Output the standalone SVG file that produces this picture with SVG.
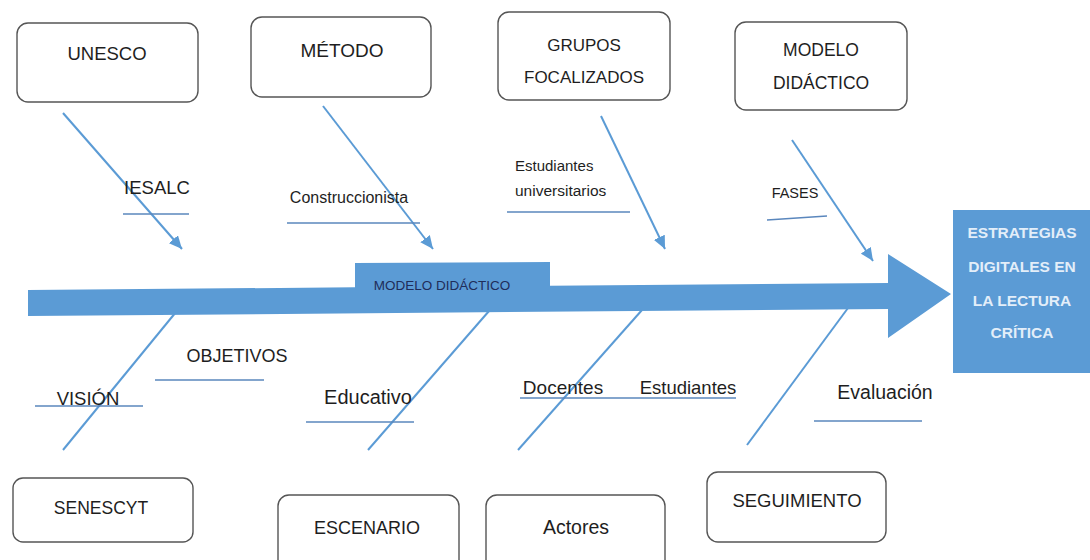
<svg xmlns="http://www.w3.org/2000/svg" width="1090" height="560" viewBox="0 0 1090 560">
<defs>
<style>
.box{fill:#fff;stroke:#555;stroke-width:1.4}
.t{font-family:"Liberation Sans",Arial,sans-serif;fill:#1e1e1e;text-anchor:middle}
.l{font-family:"Liberation Sans",Arial,sans-serif;fill:#1e1e1e}
.br{stroke:#5b9bd5;stroke-width:2;fill:none}
.ul{stroke:#5a87bd;stroke-width:1.3;fill:none}
.blue{fill:#5b9bd5}
</style>
<marker id="ah" markerUnits="userSpaceOnUse" markerWidth="14" markerHeight="12" refX="13" refY="6" orient="auto">
<path d="M0,0 L13,6 L0,12 Z" fill="#5b9bd5"/>
</marker>
</defs>
<rect width="1090" height="560" fill="#fff"/>
<g id="connectors">
<line class="br" x1="63" y1="113" x2="182" y2="249" marker-end="url(#ah)"/>
<line class="br" x1="323" y1="106" x2="433" y2="249" marker-end="url(#ah)"/>
<line class="br" x1="601" y1="116" x2="665" y2="249" marker-end="url(#ah)"/>
<line class="br" x1="792" y1="140" x2="873" y2="261" marker-end="url(#ah)"/>
<line class="br" x1="63" y1="450" x2="176" y2="312"/>
<line class="br" x1="368" y1="450" x2="489" y2="311"/>
<line class="br" x1="518" y1="450" x2="642" y2="310"/>
<line class="br" x1="747" y1="445" x2="848" y2="308"/>
<line class="ul" x1="123" y1="214" x2="189" y2="214"/>
<line class="ul" x1="287" y1="223" x2="420" y2="223"/>
<line class="ul" x1="507" y1="212" x2="630" y2="212"/>
<line class="ul" x1="767" y1="220" x2="827" y2="216"/>
<line class="ul" x1="155" y1="380" x2="264" y2="380"/>
<line class="ul" x1="35" y1="406" x2="143" y2="406"/>
<line class="ul" x1="306" y1="422" x2="414" y2="422"/>
<line class="ul" x1="520" y1="398" x2="736" y2="398"/>
<line class="ul" x1="814" y1="421" x2="922" y2="421"/>
</g>
<g id="spine">
<path class="blue" d="M28,290 L355,287.3 L355,263 L550,262 L550,285.8 L888,283 L888,254 L951,294 L888,338 L888,309 L28,316 Z"/>
<text x="442" y="290" font-family="Liberation Sans,Arial,sans-serif" font-size="13.5" fill="#1f2d5a" text-anchor="middle">MODELO DIDÁCTICO</text>
</g>
<g id="labels">
<text class="t" x="157" y="194" font-size="18.5">IESALC</text>
<text class="t" x="349" y="203" font-size="16">Construccionista</text>
<text class="l" x="515" y="170.5" font-size="15">Estudiantes</text>
<text class="l" x="515" y="195.5" font-size="15.5">universitarios</text>
<text class="t" x="795" y="198" font-size="14.5">FASES</text>
<text class="t" x="237" y="361.5" font-size="18">OBJETIVOS</text>
<text class="t" x="88" y="404.5" font-size="18.5">VISIÓN</text>
<text class="t" x="368" y="404" font-size="20">Educativo</text>
<text class="t" x="563" y="394" font-size="19">Docentes</text>
<text class="t" x="688" y="394" font-size="18.5">Estudiantes</text>
<text class="t" x="885" y="399" font-size="19.5">Evaluación</text>
</g>
<g id="unesco"><rect class="box" x="17" y="23" width="181" height="79" rx="11"/><text class="t" x="107" y="60" font-size="18.5">UNESCO</text></g>
<g id="metodo"><rect class="box" x="251" y="17" width="180" height="80" rx="11"/><text class="t" x="342" y="57" font-size="19">MÉTODO</text></g>
<g id="grupos"><rect class="box" x="498" y="12" width="172" height="88" rx="11"/><text class="t" x="584" y="51" font-size="17">GRUPOS</text><text class="t" x="584" y="83" font-size="17">FOCALIZADOS</text></g>
<g id="modelo"><rect class="box" x="735" y="22" width="172" height="88" rx="11"/><text class="t" x="821" y="56" font-size="17.5">MODELO</text><text class="t" x="821" y="89" font-size="17.5">DIDÁCTICO</text></g>
<g id="senescyt"><rect class="box" x="13" y="478" width="180" height="64" rx="10"/><text class="t" x="101" y="514" font-size="17.5">SENESCYT</text></g>
<g id="escenario"><rect class="box" x="278" y="495" width="181" height="80" rx="11"/><text class="t" x="367" y="533.5" font-size="18">ESCENARIO</text></g>
<g id="actores"><rect class="box" x="486" y="495" width="179" height="80" rx="11"/><text class="t" x="576" y="534" font-size="19.5">Actores</text></g>
<g id="seguimiento"><rect class="box" x="707" y="472" width="179" height="70" rx="11"/><text class="t" x="797" y="506.5" font-size="18.5">SEGUIMIENTO</text></g>
<g id="estrategias">
<rect class="blue" x="953" y="210" width="137" height="163"/>
<g font-family="Liberation Sans,Arial,sans-serif" font-size="15.5" font-weight="bold" fill="#e3eef9" text-anchor="middle">
<text x="1022" y="238">ESTRATEGIAS</text>
<text x="1022" y="272">DIGITALES EN</text>
<text x="1022" y="306">LA LECTURA</text>
<text x="1022" y="338">CRÍTICA</text>
</g>
</g>
</svg>
